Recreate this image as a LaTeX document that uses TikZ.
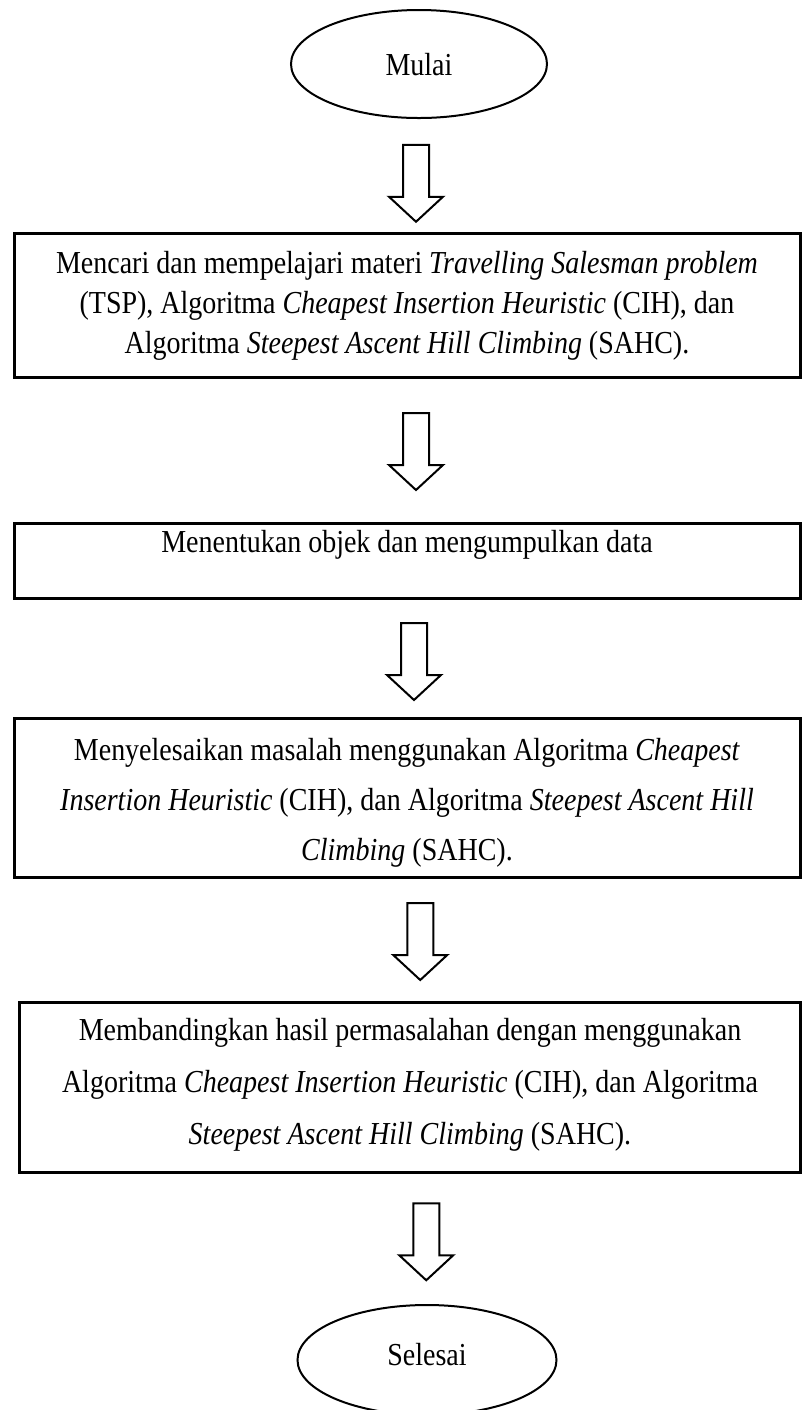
\documentclass[tikz,border=0pt]{standalone}
\usepackage{fontspec}
\setmainfont{Liberation Serif}
\usepackage{tikz}
\usetikzlibrary{calc,fit,shapes.geometric}
\tikzset{
	box/.style={draw, line width=1.5pt, inner sep=0pt},
	oval/.style={draw, ellipse, line width=1pt, inner sep=0pt},
	txt/.style={inner sep=0pt, align=center, xscale=0.875, font=\fontsize{16}{20}\selectfont},
	arrowline/.style={line width=1pt, line join=miter}
}
\def\hollowarrow(#1)(#2)(#3)(#4){\coordinate (#1) at ($(#2)!0.5!(#3)+(#4)$);
	\draw[arrowline, shift={(#1)}] (-13,-38.5) -- (13,-38.5) -- (13,13.5) -- (27,13.5) -- (0,38.5) -- (-27,13.5) -- (-13,13.5) -- cycle;}

\begin{document}
\begin{tikzpicture}[x=0.5pt, y=-0.5pt]
		%%%%% START %%%%%
		\fill[white] (0,0) rectangle (802,1410);
		\useasboundingbox (0,0) rectangle (802,1410);
		
		\node[oval, minimum width=128pt, minimum height=54pt] (mulai) at (419,64) {};
		\node[txt, anchor=base] (tmulai) at (419,75) {Mulai};
		
		\node[box, fit={(14,233) (800,377)}] (box1) {};
		\node[txt] (t1) at (407,306) {Mencari dan mempelajari materi \textit{Travelling Salesman problem}\\
			(TSP), Algoritma \textit{Cheapest Insertion Heuristic} (CIH), dan\\
			Algoritma \textit{Steepest Ascent Hill Climbing} (SAHC).};
		
		\node[box, fit={(14,523) (800,598)}] (box2) {};
		\node[txt, anchor=base] (t2) at (407,552) {Menentukan objek dan mengumpulkan data};
		
		\node[box, fit={(14,718) (800,877)}] (box3) {};
		\node[txt, font=\fontsize{16}{25}\selectfont] (t3) at (407,803) {Menyelesaikan masalah menggunakan Algoritma \textit{Cheapest}\\
			\textit{Insertion Heuristic} (CIH), dan Algoritma \textit{Steepest Ascent Hill}\\
			\textit{Climbing} (SAHC).};
		
		\node[box, fit={(19,1002) (800,1172)}] (box4) {};
		\node[txt, font=\fontsize{16}{26}\selectfont] (t4) at (410,1085) {Membandingkan hasil permasalahan dengan menggunakan\\
			Algoritma \textit{Cheapest Insertion Heuristic} (CIH), dan Algoritma\\
			\textit{Steepest Ascent Hill Climbing} (SAHC).};
		
		\node[oval, minimum width=129.5pt, minimum height=55pt] (selesai) at (427,1360) {};
		\node[txt, anchor=base] (tselesai) at (427,1365) {Selesai};
		
		% hollow arrows between the steps
		\hollowarrow(a1)(mulai.south)(box1.north)(3,8)
		\hollowarrow(a2)(box1.south)(box2.north)(9,1.5)
		\hollowarrow(a3)(box2.south)(box3.north)(7,3.5)
		\hollowarrow(a4)(box3.south)(box4.north)(12,2)
		\hollowarrow(a5)(box4.south)(selesai.north)(8,3)
		
		%%%%% END %%%%%
	\end{tikzpicture}
\end{document}
